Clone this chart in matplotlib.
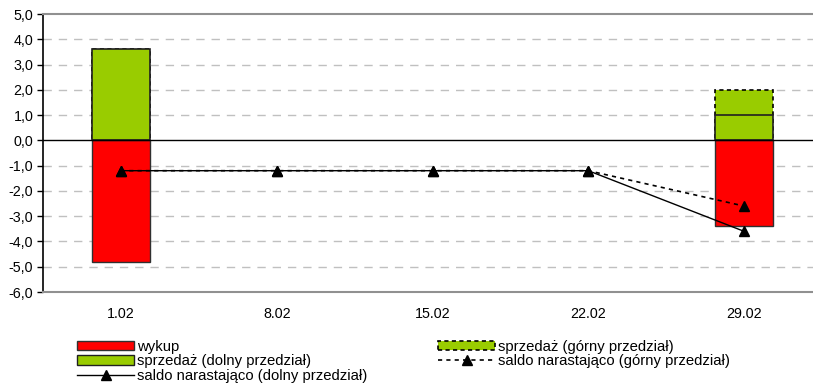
import matplotlib
matplotlib.use('Agg')
from matplotlib import pyplot as plt
from matplotlib.patches import Patch
from matplotlib.lines import Line2D
import numpy as np

plt.rcParams['font.family'] = ['Liberation Sans', 'DejaVu Sans']

# dane
dates = ['1.02', '8.02', '15.02', '22.02', '29.02']
wykup = [-4.8, 0.0, 0.0, 0.0, -3.4]
sprzedaz_dolny = [3.6, 0.0, 0.0, 0.0, 1.0]
sprzedaz_gorny = [3.6, 0.0, 0.0, 0.0, 2.0]
saldo_dolny = [-1.2, -1.2, -1.2, -1.2, -3.6]
saldo_gorny = [-1.2, -1.2, -1.2, -1.2, -2.6]
y_ticks = [5, 4, 3, 2, 1, 0, -1, -2, -3, -4, -5, -6]

RED = '#ff0000'
GREEN = '#99cc00'
FS = 10.3
FS_LEG = 10.7


def nz(vals):
    # zerowe slupki nie sa rysowane
    return [v if v != 0 else np.nan for v in vals]


fig = plt.figure(figsize=(8.13, 3.87), dpi=100)
ax = fig.add_axes([43 / 813, 1 - 292 / 387, (822 - 43) / 813, (292 - 14) / 387])

x = np.arange(len(dates))
w = 0.37

# siatka
for v in y_ticks:
    if v not in (0, 5, -6):
        ax.axhline(v, color='#c0c0c0', lw=1.0, ls=(0, (6, 5)), zorder=0)

# slupki
ax.bar(x, nz(sprzedaz_gorny), w, color=GREEN, edgecolor='black', lw=1.2,
       linestyle=(0, (2.5, 2)), zorder=2)
ax.bar(x, nz(sprzedaz_dolny), w, color=GREEN, edgecolor='#202020', lw=1.2, zorder=3)
ax.bar(x, nz(wykup), w, color=RED, edgecolor='#303030', lw=1.0, zorder=3)

ax.axhline(0, color='black', lw=1.0, zorder=4)

# saldo
ax.plot(x, saldo_gorny, color='black', lw=1.2, ls=(0, (2.5, 2.5)),
        marker='^', ms=7.5, zorder=5)
ax.plot(x, saldo_dolny, color='black', lw=1.0, marker='^', ms=7.5, zorder=6)

ax.set_xlim(-0.5, len(dates) - 0.5)
ax.set_ylim(-6, 5)
ax.set_yticks(y_ticks)
ax.set_yticklabels([f'{v:.1f}'.replace('.', ',') for v in y_ticks], fontsize=FS)
ax.set_xticks(x)
ax.set_xticklabels(dates, fontsize=FS)
ax.tick_params(axis='x', length=0, pad=11)
ax.tick_params(axis='y', length=4, width=1, pad=3, color='black')

ax.spines['right'].set_visible(False)
ax.spines['top'].set_color('#909090')
ax.spines['top'].set_linewidth(1.5)
ax.spines['bottom'].set_color('#909090')
ax.spines['bottom'].set_linewidth(1.5)
ax.spines['left'].set_color('black')
ax.spines['left'].set_linewidth(1.2)

# legenda
h_wykup = Patch(facecolor=RED, edgecolor='#303030', lw=1.0)
h_dolny = Patch(facecolor=GREEN, edgecolor='#202020', lw=1.0)
h_saldo_d = Line2D([], [], color='black', lw=1.0, marker='^', ms=7.5)
h_gorny = Patch(facecolor=GREEN, edgecolor='black', lw=1.2, linestyle=(0, (2.5, 2)))
h_saldo_g = Line2D([], [], color='black', lw=1.2, ls=(0, (2.5, 2.5)), marker='^', ms=7.5)

leg_kw = dict(frameon=False, fontsize=FS_LEG, handlelength=3.85, handleheight=0.6,
              handletextpad=0.2, labelspacing=0.02, borderaxespad=0, borderpad=0)
leg1 = fig.legend([h_wykup, h_dolny, h_saldo_d],
                  ['wykup', 'sprzedaż (dolny przedział)', 'saldo narastająco (dolny przedział)'],
                  loc='upper left', bbox_to_anchor=(77 / 813, 1 - 340 / 387), **leg_kw)
leg2 = fig.legend([h_gorny, h_saldo_g],
                  ['sprzedaż (górny przedział)', 'saldo narastająco (górny przedział)'],
                  loc='upper left', bbox_to_anchor=(438 / 813, 1 - 340 / 387), **leg_kw)

fig.savefig('out.png', dpi=100)
